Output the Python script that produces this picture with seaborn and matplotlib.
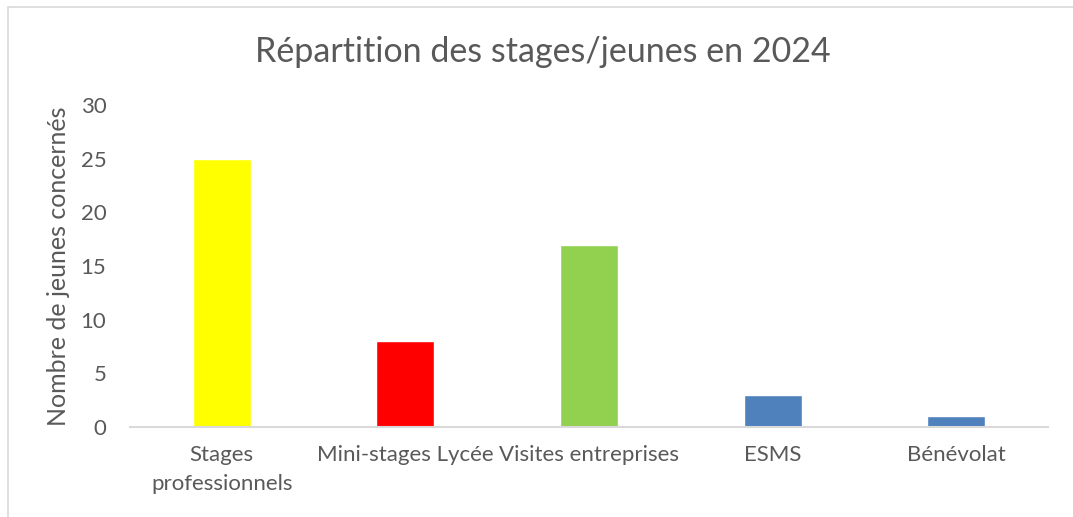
import matplotlib
matplotlib.use("Agg")
import matplotlib.pyplot as plt
import seaborn as sns
import pandas as pd
from matplotlib.patches import Rectangle

categories = ["Stages\nprofessionnels", "Mini-stages Lycée", "Visites entreprises", "ESMS", "Bénévolat"]
values = [25, 8, 17, 3, 1]
colors = ["#FFFF00", "#FF0000", "#92D050", "#4F81BD", "#4F81BD"]
yticks = [0, 5, 10, 15, 20, 25, 30]
title = "Répartition des stages/jeunes en 2024"
ylabel = "Nombre de jeunes concernés"

sns.set_theme(style="white")
plt.rcParams["font.family"] = ["Lato", "DejaVu Sans"]
text_color = "#595959"

df = pd.DataFrame({"cat": categories, "val": values})

fig = plt.figure(figsize=(10.73, 5.17), dpi=100)
ax = fig.add_axes([130 / 1073, 1 - 427 / 517, (1048 - 130) / 1073, (427 - 105) / 517])

sns.barplot(data=df, x="cat", y="val", hue="cat", palette=colors, legend=False,
            width=0.316, saturation=1, ax=ax)

ax.set_ylim(0, 30)
ax.set_xlim(-0.5, len(categories) - 0.5)
ax.set_yticks(yticks)
ax.set_yticklabels([str(t) for t in yticks])
ax.tick_params(axis="both", length=0, colors=text_color, labelsize=16)
ax.tick_params(axis="y", pad=17)
ax.tick_params(axis="x", pad=13)
for lbl in ax.get_xticklabels():
    lbl.set_linespacing(1.55)

for s in ["top", "right", "left"]:
    ax.spines[s].set_visible(False)
ax.spines["bottom"].set_color("#D9D9D9")
ax.spines["bottom"].set_linewidth(1.5)

ax.set_xlabel("")
ax.set_ylabel(ylabel, fontsize=18, color=text_color)
ax.yaxis.set_label_coords(-60 / 918, 0.5)

fig.text(543 / 1073, 1 - 52 / 517, title, ha="center", va="center",
         fontsize=24.5, color=text_color)

# chart frame
fig.patches.append(Rectangle((8 / 1073, -0.1), 1.2, 1 - 7 / 517 + 0.1,
                             transform=fig.transFigure, fill=False,
                             edgecolor="#D9D9D9", linewidth=1.2))

fig.savefig("out.png", dpi=100, facecolor="white")
